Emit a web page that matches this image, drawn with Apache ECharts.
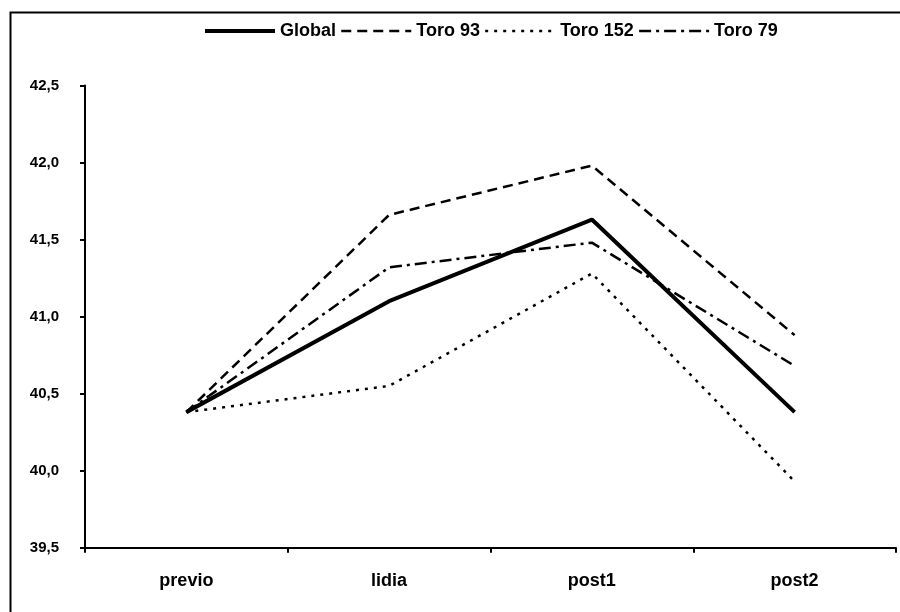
<!DOCTYPE html>
<html>
<head>
<meta charset="utf-8">
<script src="https://cdn.jsdelivr.net/npm/echarts@6/dist/echarts.min.js"></script>
<style>
html,body{margin:0;padding:0;background:#fff;}
#chart{width:900px;height:612px;}
</style>
</head>
<body>
<div id="chart"></div>
<script>
var categories = ['previo', 'lidia', 'post1', 'post2'];
var seriesNames = ['Global', 'Toro 93', 'Toro 152', 'Toro 79'];
var globalValues = [40.38, 41.10, 41.63, 40.38];
var toro93Values = [40.38, 41.66, 41.98, 40.88];
var toro152Values = [40.38, 40.55, 41.28, 39.93];
var toro79Values = [40.38, 41.32, 41.48, 40.68];
var yMin = 39.5, yMax = 42.5, yStep = 0.5;

var font = 'Liberation Sans, Arial, sans-serif';
var chart = echarts.init(document.getElementById('chart'));

function mk(name, data, width, type) {
  return {
    name: name, type: 'line', data: data, symbol: 'none', smooth: false,
    lineStyle: { color: '#000', width: width, type: type, cap: 'butt' },
    itemStyle: { color: '#000' },
    emphasis: { disabled: true }, animation: false
  };
}

chart.setOption({
  animation: false,
  backgroundColor: '#fff',
  graphic: [{
    type: 'rect', left: 8, top: 10, shape: { width: 905, height: 620 },
    style: { fill: 'none', stroke: '#000', lineWidth: 2 }, silent: true
  }],
  legend: {
    top: 17, left: 198,
    itemWidth: 70, itemHeight: 14, itemGap: 4,
    itemStyle: { color: 'rgba(0,0,0,0)', borderWidth: 0, opacity: 0 },
    textStyle: { fontFamily: font, fontWeight: 'bold', fontSize: 18, color: '#000' },
    data: [
      { name: seriesNames[0], lineStyle: { width: 4, color: '#000', type: 'solid' } },
      { name: seriesNames[1], lineStyle: { width: 2.5, color: '#000', type: [10, 6] } },
      { name: seriesNames[2], lineStyle: { width: 2.5, color: '#000', type: [3, 6] } },
      { name: seriesNames[3], lineStyle: { width: 2.5, color: '#000', type: [12, 5, 3, 5] } }
    ]
  },
  grid: { left: 85, right: 4, top: 85.5, bottom: 64.3, containLabel: false },
  xAxis: {
    type: 'category', data: categories, boundaryGap: true,
    axisLine: { lineStyle: { color: '#000', width: 2 } },
    axisTick: { show: true, length: 5, lineStyle: { color: '#000', width: 2 } },
    axisLabel: { margin: 24, color: '#000', fontFamily: font, fontWeight: 'bold', fontSize: 18 },
    splitLine: { show: false }
  },
  yAxis: {
    type: 'value', min: yMin, max: yMax, interval: yStep,
    axisLine: { show: true, lineStyle: { color: '#000', width: 2 } },
    axisTick: { show: true, length: 5, lineStyle: { color: '#000', width: 2 } },
    axisLabel: {
      margin: 26, color: '#000', fontFamily: font, fontWeight: 'bold', fontSize: 15,
      formatter: function (v) { return v.toFixed(1).replace('.', ','); }
    },
    splitLine: { show: false }
  },
  series: [
    mk(seriesNames[0], globalValues, 4, 'solid'),
    mk(seriesNames[1], toro93Values, 2.5, [10, 6]),
    mk(seriesNames[2], toro152Values, 2.5, [3, 6]),
    mk(seriesNames[3], toro79Values, 2.5, [12, 5, 3, 5])
  ]
});
</script>
</body>
</html>
